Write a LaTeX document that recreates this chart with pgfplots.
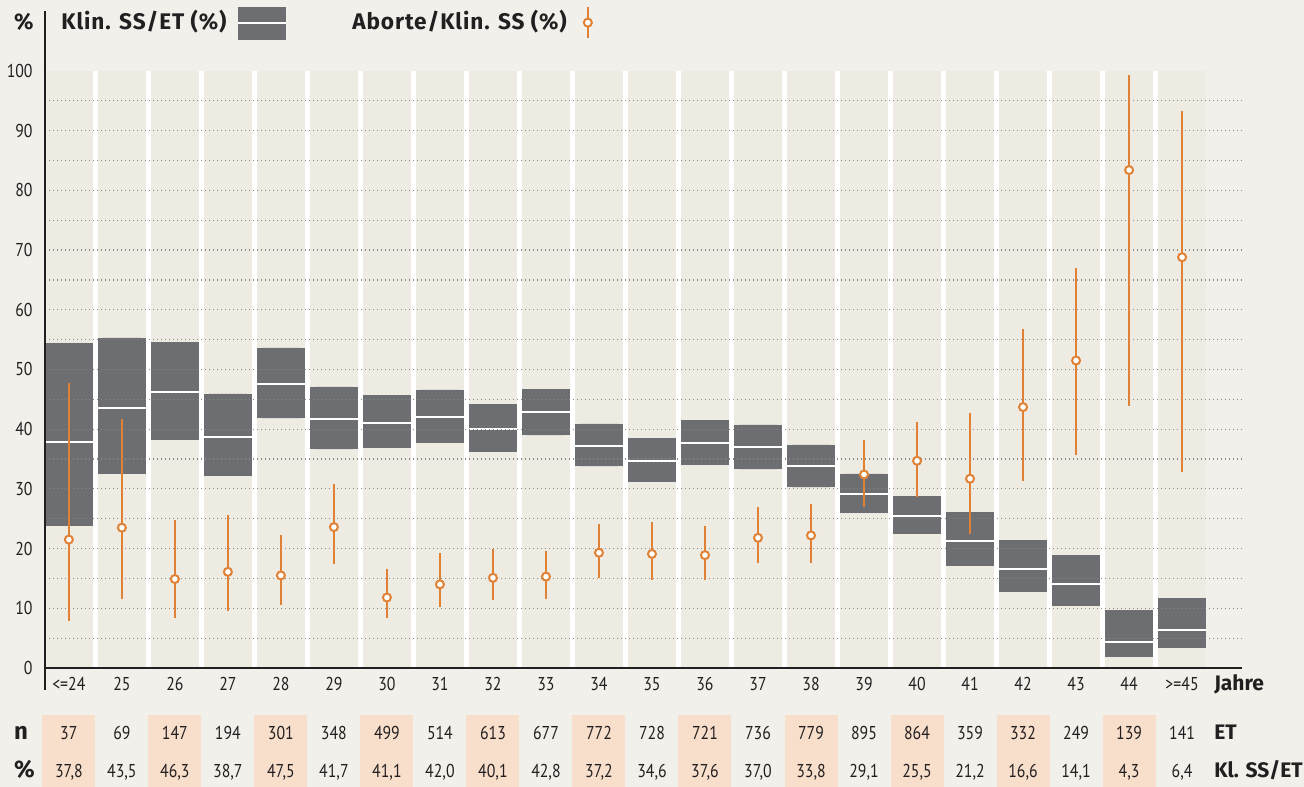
\documentclass[border=0pt]{standalone}
\usepackage{fontspec}
\setmainfont{PT Sans}[FakeStretch=0.85]
\newfontfamily\boldlab{Fira Sans}
\newfontfamily\leglab{Fira Sans}[LetterSpace=4]
\usepackage{pgfplots}
\pgfplotsset{compat=1.18}
\usepgfplotslibrary{statistics}
\usepackage{pgfplotstable}

\definecolor{pagebg}{HTML}{F2F0EB}
\definecolor{colbg}{HTML}{EEEBE3}
\definecolor{boxgray}{HTML}{6D6E71}
\definecolor{abort}{HTML}{E08236}
\definecolor{peach}{HTML}{F8DFCC}
\definecolor{gridc}{HTML}{8A8A8A}
\definecolor{txt}{HTML}{231F20}

\newcommand{\tickfont}{\fontsize{9.3}{11}\selectfont}
\newcommand{\labfont}{\boldlab\fontsize{10.5}{12}\selectfont\bfseries}
\newcommand{\legfont}{\leglab\fontsize{11.3}{13}\selectfont\bfseries}

% i: Altersklasse; lo/med/hi: Klin. SS/ET; plo/p/phi: Aborte/Klin. SS
\pgfplotstableread{
i  lo   med  hi   plo  p    phi  n   pct
0  23.8 37.8 54.4 7.8  21.5 47.7 37  37,8
1  32.5 43.5 55.3 11.6 23.5 41.7 69  43,5
2  38.2 46.3 54.6 8.4  14.9 24.8 147 46,3
3  32.2 38.7 45.9 9.6  16.1 25.6 194 38,7
4  41.8 47.5 53.6 10.6 15.5 22.3 301 47,5
5  36.6 41.7 47.1 17.4 23.6 30.8 348 41,7
6  36.9 41.1 45.7 8.3  11.8 16.6 499 41,1
7  37.7 42.0 46.6 10.2 14.0 19.3 514 42,0
8  36.2 40.1 44.2 11.4 15.1 19.9 613 40,1
9  39.0 42.8 46.7 11.6 15.3 19.6 677 42,8
10 33.8 37.2 40.9 15.1 19.3 24.1 772 37,2
11 31.2 34.6 38.5 14.8 19.1 24.5 728 34,6
12 34.0 37.6 41.5 14.8 18.9 23.8 721 37,6
13 33.3 37.0 40.7 17.5 21.8 27.0 736 37,0
14 30.3 33.8 37.4 17.6 22.2 27.5 779 33,8
15 26.0 29.1 32.5 27.0 32.4 38.2 895 29,1
16 22.5 25.5 28.8 28.7 34.7 41.2 864 25,5
17 17.1 21.2 26.1 22.5 31.7 42.7 359 21,2
18 12.8 16.6 21.4 31.4 43.7 56.8 332 16,6
19 10.4 14.1 18.9 35.7 51.5 67.0 249 14,1
20 1.9  4.3  9.7  43.8 83.4 99.3 139 4,3
21 3.4  6.4  11.7 32.9 68.8 93.3 141 6,4
}\data

\begin{document}
\begin{tikzpicture}
\begin{axis}[
    scale only axis, width=598.5pt, height=328.35pt,
    xmin=-0.45, xmax=22.13, ymin=0, ymax=110,
    clip=false, axis on top,
    axis line style={draw=none},
    major tick length=0pt,
    boxplot/draw direction=y,
    boxplot/box extend=0.9,
    boxplot/every median/.style={draw=white, line width=1pt},
    boxplot/every whisker/.style={draw=none},
    boxplot/every box/.style={fill=boxgray, draw=none},
    xtick={0,...,21},
    xticklabels={{<=24},25,26,27,28,29,30,31,32,33,34,35,36,37,38,39,40,41,42,43,44,{>=45}},
    ytick={0,10,...,100},
    /pgf/number format/assume math mode=true,
    tick label style={font=\tickfont, text=txt},
    xticklabel style={anchor=base, yshift=-11.5pt},
    yticklabel style={anchor=east, inner sep=0pt, xshift=-6pt},
]
% Flaechen
\fill[pagebg] (axis cs:-1.299,-19.93) rectangle (axis cs:23.30,111.89);
\fill[white] (axis cs:-0.45,0) rectangle (axis cs:21.45,100);
\pgfplotsinvokeforeach{0,...,21}{
  \fill[colbg] (axis cs:#1-0.45,0) rectangle (axis cs:#1+0.45,100);
}
\pgfplotsinvokeforeach{0,2,...,20}{
  \fill[peach] (axis cs:#1-0.5,-7.87) rectangle (axis cs:#1+0.5,-19.93);
}

% Klin. SS/ET
\pgfplotsinvokeforeach{0,...,21}{
  \pgfplotstablegetelem{#1}{lo}\of\data \let\blo\pgfplotsretval
  \pgfplotstablegetelem{#1}{med}\of\data \let\bmed\pgfplotsretval
  \pgfplotstablegetelem{#1}{hi}\of\data \let\bhi\pgfplotsretval
  \edef\doplot{\noexpand\addplot[fill=boxgray, draw=none,
    boxplot prepared={draw position=#1,
      lower whisker=\blo, lower quartile=\blo, median=\bmed,
      upper quartile=\bhi, upper whisker=\bhi}] coordinates {};}
  \doplot
}

% Gitter
\pgfplotsinvokeforeach{5,10,...,95}{
  \draw[gridc, line width=0.6pt, dash pattern=on 0.6pt off 1.4pt]
    (axis cs:-0.45,#1) -- (axis cs:22.13,#1);
}

% Aborte/Klin. SS
\addplot[abort, only marks, mark=*, mark size=2pt,
    mark options={fill=white, draw=abort, line width=1pt},
    error bars/.cd, y dir=both, y explicit, error mark=none,
    error bar style={line width=1pt, abort}]
  table[x=i, y=p, y error plus expr=\thisrow{phi}-\thisrow{p},
        y error minus expr=\thisrow{p}-\thisrow{plo}] {\data};

% Tabelle
\addplot[draw=none, mark=none, nodes near coords, point meta=explicit symbolic,
    every node near coord/.append style={anchor=base, font=\tickfont, text=txt, inner sep=0pt}]
  table[x=i, y expr=-12.06, meta=n] {\data};
\addplot[draw=none, mark=none, nodes near coords, point meta=explicit symbolic,
    every node near coord/.append style={anchor=base, font=\tickfont, text=txt, inner sep=0pt}]
  table[x=i, y expr=-18.43, meta=pct] {\data};

% Achsen
\draw[txt, line width=1pt] (axis cs:-0.45,-3.7) -- (axis cs:-0.45,110);
\draw[txt, line width=0.7pt] (axis cs:-0.45,0) -- (axis cs:22.13,0);

% Beschriftungen
\node[anchor=base, font=\legfont, text=txt, inner sep=0pt] at (axis cs:-0.85,106.9) {\%};
\node[anchor=base east, font=\legfont, text=txt, inner sep=0pt] at (axis cs:2.98,106.9) {Klin. SS/ET (\%)};
\fill[boxgray] (axis cs:3.19,105.19) rectangle (axis cs:4.09,110.72);
\draw[white, line width=1pt] (axis cs:3.19,108.04) -- (axis cs:4.09,108.04);
\node[anchor=base west, font=\legfont, text=txt, inner sep=0pt] at (axis cs:5.34,106.9) {Aborte/Klin. SS (\%)};
\draw[abort, line width=1pt] (axis cs:9.79,105.5) -- (axis cs:9.79,110.7);
\draw[abort, line width=1pt, fill=white] (axis cs:9.79,108.1) circle[radius=2pt];

\node[anchor=base west, font=\labfont, text=txt, inner sep=0pt] at (axis cs:21.60,-3.85) {Jahre};
\node[anchor=base west, font=\labfont, text=txt, inner sep=0pt] at (axis cs:21.60,-12.06) {ET};
\node[anchor=base west, font=\labfont, text=txt, inner sep=0pt] at (axis cs:21.60,-18.43) {Kl. SS/ET};
\node[anchor=base west, font=\boldlab\fontsize{12}{14}\selectfont\bfseries, text=txt, inner sep=0pt] at (axis cs:-1.04,-12.06) {n};
\node[anchor=base west, font=\boldlab\fontsize{12}{14}\selectfont\bfseries, text=txt, inner sep=0pt] at (axis cs:-1.04,-18.43) {\%};
\end{axis}
\end{tikzpicture}
\end{document}
